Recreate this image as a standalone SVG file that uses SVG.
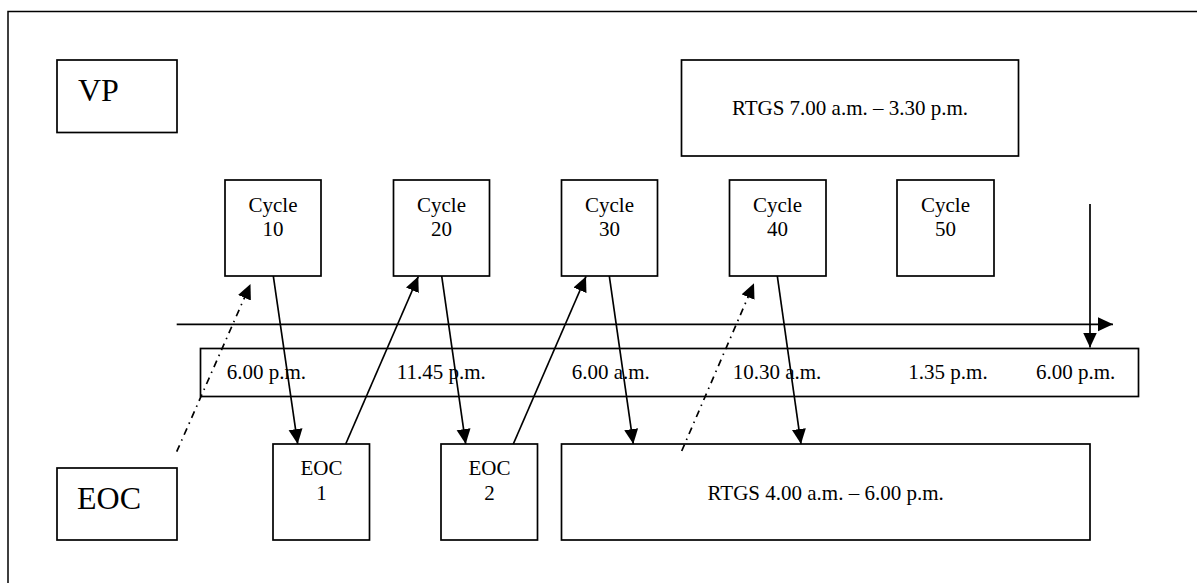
<svg xmlns="http://www.w3.org/2000/svg" width="1197" height="583" viewBox="0 0 1197 583">
<style>
  .box { fill: #fff; stroke: #000; stroke-width: 1.7; }
  .t { font-family: "Liberation Serif", "Times New Roman", serif; font-size: 21px; fill: #000; }
  .big { font-family: "Liberation Serif", "Times New Roman", serif; font-size: 32px; fill: #000; }
  .c { text-anchor: middle; }
  .arr { stroke: #000; stroke-width: 1.7; fill: none; marker-end: url(#ah); }
  .dd { stroke: #000; stroke-width: 1.7; fill: none; stroke-dasharray: 7 5 1.5 5; marker-end: url(#ah); }
</style>
<defs>
  <marker id="ah" markerUnits="userSpaceOnUse" markerWidth="16" markerHeight="15" refX="15" refY="7" orient="auto">
    <path d="M0,0 L15,7 L0,14 z" fill="#000"/>
  </marker>
</defs>
<rect x="0" y="0" width="1197" height="583" fill="#fff"/>
<rect id="frame" x="8" y="11.5" width="1200" height="600" fill="none" stroke="#000" stroke-width="1.5"/>

<g id="vp"><rect class="box" x="57" y="60" width="120" height="72.5"/><text class="big" x="78" y="101">VP</text></g>
<g id="eoc"><rect class="box" x="57" y="468" width="120" height="72"/><text class="big" x="77" y="509">EOC</text></g>

<g id="rtgs-top"><rect class="box" x="681.5" y="60" width="337" height="96"/><text class="t c" x="850" y="115">RTGS 7.00 a.m. – 3.30 p.m.</text></g>

<g id="cycle10"><rect class="box" x="225" y="180" width="96" height="96"/><text class="t c" x="273" y="211.5">Cycle</text><text class="t c" x="273" y="236">10</text></g>
<g id="cycle20"><rect class="box" x="393.5" y="180" width="96" height="96"/><text class="t c" x="441.5" y="211.5">Cycle</text><text class="t c" x="441.5" y="236">20</text></g>
<g id="cycle30"><rect class="box" x="561.5" y="180" width="96" height="96"/><text class="t c" x="609.5" y="211.5">Cycle</text><text class="t c" x="609.5" y="236">30</text></g>
<g id="cycle40"><rect class="box" x="729.5" y="180" width="96.5" height="96"/><text class="t c" x="777.5" y="211.5">Cycle</text><text class="t c" x="777.5" y="236">40</text></g>
<g id="cycle50"><rect class="box" x="897" y="180" width="97" height="96"/><text class="t c" x="945.5" y="211.5">Cycle</text><text class="t c" x="945.5" y="236">50</text></g>

<g id="timeline">
  <rect class="box" x="200.5" y="348.5" width="938" height="48"/>
  <text class="t" x="226.7" y="379">6.00 p.m.</text>
  <text class="t" x="396.7" y="379">11.45 p.m.</text>
  <text class="t" x="571.7" y="379">6.00 a.m.</text>
  <text class="t" x="732.7" y="379">10.30 a.m.</text>
  <text class="t" x="908.3" y="379">1.35 p.m.</text>
  <text class="t" x="1036" y="379">6.00 p.m.</text>
</g>

<g id="eoc1"><rect class="box" x="273" y="444" width="96.5" height="96"/><text class="t c" x="321.5" y="475">EOC</text><text class="t c" x="321.5" y="500">1</text></g>
<g id="eoc2"><rect class="box" x="441" y="444" width="96.5" height="96"/><text class="t c" x="489.5" y="475">EOC</text><text class="t c" x="489.5" y="500">2</text></g>
<g id="rtgs-bottom"><rect class="box" x="561.5" y="444" width="528.5" height="96"/><text class="t c" x="825.7" y="500">RTGS 4.00 a.m. – 6.00 p.m.</text></g>

<g id="connectors">
  <line class="arr" x1="176.7" y1="324.3" x2="1113" y2="324.3"/>
  <line class="arr" x1="1090" y1="204" x2="1090" y2="347.5"/>
  <line class="arr" x1="273.3" y1="276" x2="297.7" y2="444"/>
  <line class="arr" x1="345.7" y1="444" x2="418.3" y2="276.5"/>
  <line class="arr" x1="441.7" y1="276" x2="465.7" y2="444"/>
  <line class="arr" x1="513.3" y1="444" x2="586" y2="276.5"/>
  <line class="arr" x1="609.3" y1="276" x2="633.3" y2="444"/>
  <line class="arr" x1="777.3" y1="276" x2="801" y2="444"/>
  <line class="dd" x1="176.7" y1="451.7" x2="250.5" y2="284"/>
  <line class="dd" x1="681.7" y1="451" x2="754" y2="283.3"/>
</g>
</svg>
